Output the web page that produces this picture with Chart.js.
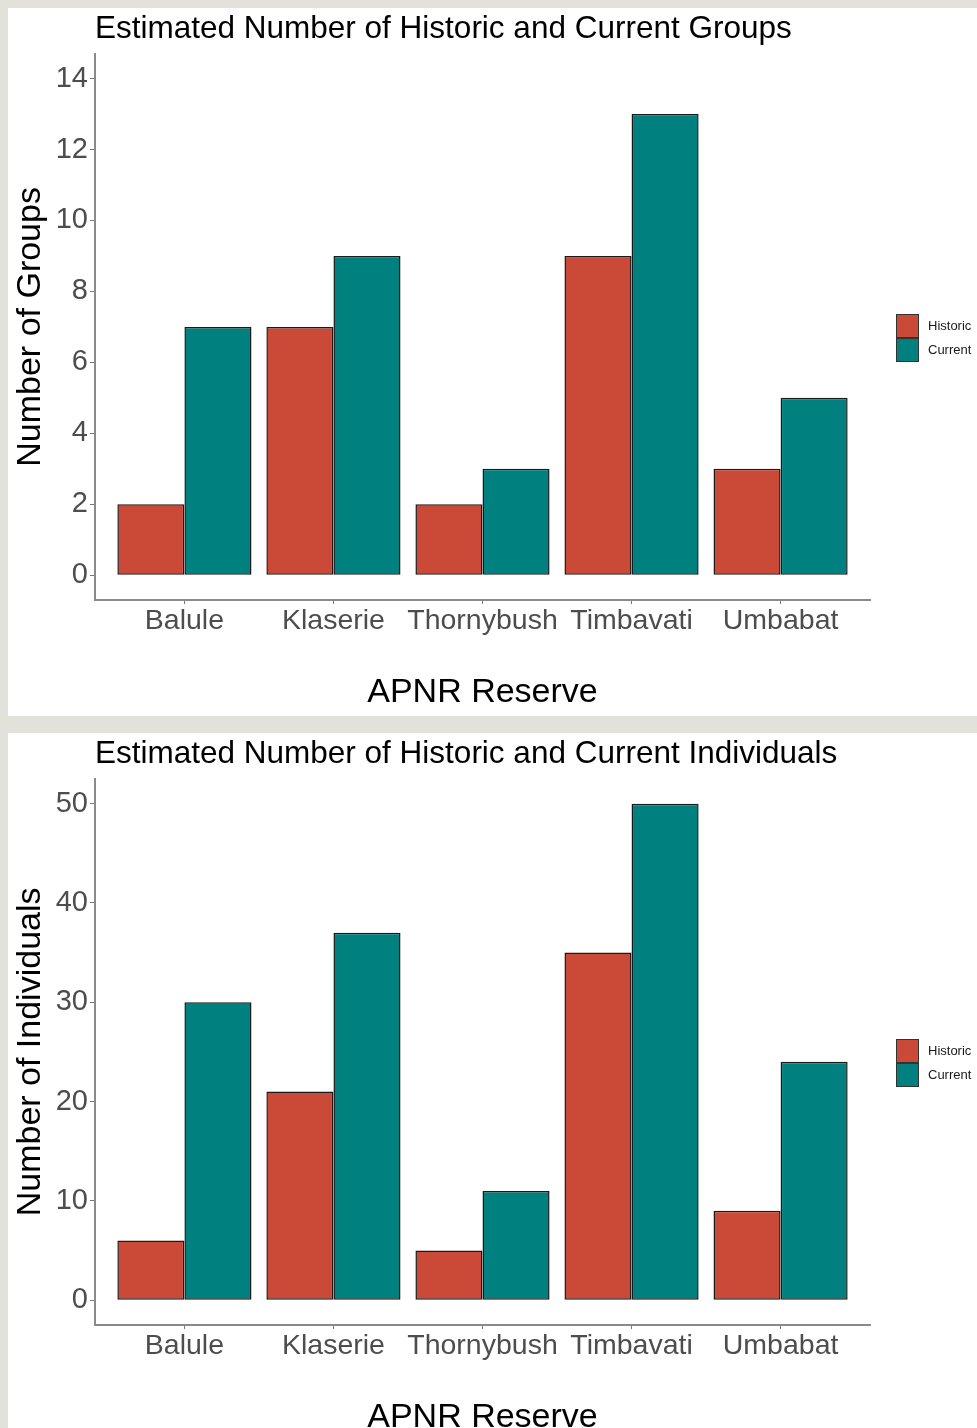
<!DOCTYPE html>
<html>
<head>
<meta charset="utf-8">
<script src="https://cdn.jsdelivr.net/npm/chart.js@4"></script>
<style>
  body { margin: 0; background: #e2e2da; width: 977px; height: 1428px; overflow: hidden; position: relative; }
  .panel { position: absolute; left: 8px; width: 969px; height: 708px; background: #fff; }
  #p1 { top: 8px; }
  #p2 { top: 733px; }
</style>
</head>
<body>
<div class="panel" id="p1"><canvas id="groups" width="969" height="708"></canvas></div>
<div class="panel" id="p2"><canvas id="individuals" width="969" height="708"></canvas></div>

<script>
var reserves = ["Balule", "Klaserie", "Thornybush", "Timbavati", "Umbabat"];

var groupsHistoric = [2, 7, 2, 9, 3];
var groupsCurrent = [7, 9, 3, 13, 5];
var groupsTicks = [0, 2, 4, 6, 8, 10, 12, 14];

var indivHistoric = [6, 21, 5, 35, 9];
var indivCurrent = [30, 37, 11, 50, 24];
var indivTicks = [0, 10, 20, 30, 40, 50];

var FONT = '"Liberation Sans", Arial, sans-serif';

// ggplot style legend on the right, boxes stacked with no gap
var sideLegend = {
    id: 'sideLegend',
    afterDraw: function(chart) {
        var ctx = chart.ctx;
        var x = chart.chartArea.right + 26;
        var y = 306;
        ctx.save();
        chart.data.datasets.forEach(function(ds) {
            ctx.fillStyle = ds.backgroundColor;
            ctx.fillRect(x, y, 23, 24);
            ctx.strokeStyle = '#333';
            ctx.lineWidth = 1;
            ctx.strokeRect(x + 0.5, y + 0.5, 22, 23);
            ctx.fillStyle = '#1a1a1a';
            ctx.font = '13px ' + FONT;
            ctx.textBaseline = 'middle';
            ctx.fillText(ds.label, x + 32, y + 12);
            y += 24;
        });
        ctx.restore();
    }
};

function toPoints(values) {
    return values.map(function(v, i) { return {x: i, y: v}; });
}

function makeChart(id, title, yTitle, historic, current, yMin, yMax, yTicks) {
    var ctx = document.getElementById(id).getContext('2d');
    return new Chart(ctx, {
        type: 'bar',
        data: {
            datasets: [{
                label: 'Historic',
                data: toPoints(historic),
                backgroundColor: '#cb4a37',
                borderColor: '#1a1a1a',
                borderWidth: 1.5,
                borderSkipped: false
            },
            {
                label: 'Current',
                data: toPoints(current),
                backgroundColor: '#018080',
                borderColor: '#1a1a1a',
                borderWidth: 1.5,
                borderSkipped: false
            }]
        },
        options: {
            responsive: false,
            animation: false,
            categoryPercentage: 0.9,
            barPercentage: 1,
            layout: { padding: { left: 0, right: 107, top: 0, bottom: 0 } },
            plugins: {
                legend: { display: false },
                tooltip: { enabled: false },
                title: {
                    display: true,
                    text: title,
                    align: 'start',
                    fullSize: false,
                    color: '#000',
                    font: { family: FONT, size: 31.5, weight: 'normal' },
                    padding: { top: 2, bottom: 6 }
                }
            },
            scales: {
                x: {
                    type: 'linear',
                    min: -0.6,
                    max: 4.6,
                    offset: false,
                    afterBuildTicks: function(scale) {
                        scale.ticks = reserves.map(function(r, i) { return {value: i}; });
                    },
                    afterFit: function(scale) { scale.height = 116; },
                    ticks: {
                        color: '#4d4d4d',
                        padding: 0,
                        font: { family: FONT, size: 28.5 },
                        maxRotation: 0,
                        callback: function(value) { return reserves[value]; }
                    },
                    grid: { drawOnChartArea: false, drawTicks: true, tickLength: 4, color: '#777', offset: false },
                    border: { color: '#8a8a8a', width: 2 },
                    title: {
                        display: true,
                        text: 'APNR Reserve',
                        color: '#000',
                        font: { family: FONT, size: 34 },
                        padding: { top: 0, bottom: 3 }
                    }
                },
                y: {
                    min: yMin,
                    max: yMax,
                    afterBuildTicks: function(scale) {
                        scale.ticks = yTicks.map(function(v) { return {value: v}; });
                    },
                    afterFit: function(scale) { scale.width = 87; },
                    ticks: {
                        color: '#4d4d4d',
                        padding: 2,
                        font: { family: FONT, size: 29 }
                    },
                    grid: { drawOnChartArea: false, drawTicks: true, tickLength: 5, color: '#777' },
                    border: { color: '#8a8a8a', width: 2 },
                    title: {
                        display: true,
                        text: yTitle,
                        color: '#000',
                        font: { family: FONT, size: 34 },
                        padding: { top: 2, bottom: 0 }
                    }
                }
            }
        },
        plugins: [sideLegend]
    });
}

makeChart('groups', 'Estimated Number of Historic and Current Groups', 'Number of Groups',
    groupsHistoric, groupsCurrent, -0.7, 14.7, groupsTicks);
makeChart('individuals', 'Estimated Number of Historic and Current Individuals', 'Number of Individuals',
    indivHistoric, indivCurrent, -2.5, 52.5, indivTicks);
</script>
</body>
</html>
